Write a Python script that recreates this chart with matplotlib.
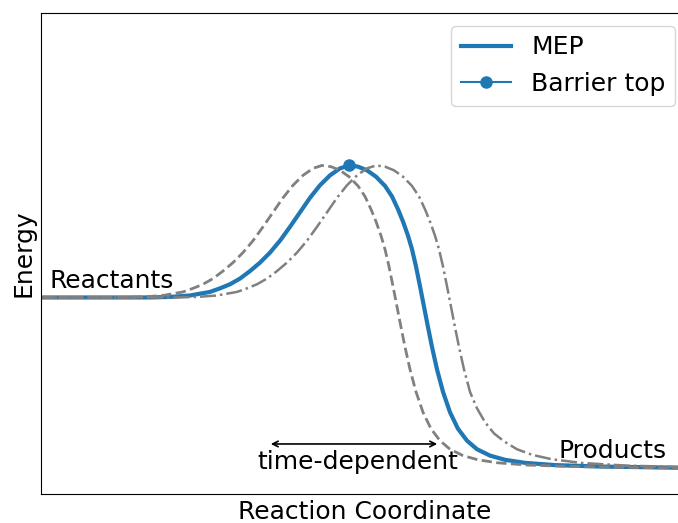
import matplotlib
matplotlib.use("Agg")
import matplotlib.pyplot as plt

# Minimum energy path: reaction coordinate (arbitrary steps) vs energy
mep_x = [0, 59, 109, 129, 149, 169, 179, 189, 199, 209, 219, 229, 239, 249,
         259, 269, 279, 289, 299, 308, 317, 326, 335, 344, 351, 357, 362, 367,
         371, 375, 379, 383, 387, 391, 396, 402, 409, 417, 426, 436, 449, 464,
         484, 514, 559, 647]
mep_e = [0.000, 0.000, 0.000, 0.004, 0.015, 0.042, 0.069, 0.100, 0.143,
         0.200, 0.264, 0.340, 0.430, 0.535, 0.645, 0.755, 0.850, 0.925,
         0.978, 1.000, 0.991, 0.963, 0.915, 0.845, 0.765, 0.668, 0.575,
         0.468, 0.365, 0.235, 0.085, -0.070, -0.225, -0.375, -0.545, -0.715,
         -0.870, -0.995, -1.085, -1.150, -1.198, -1.230, -1.253, -1.270,
         -1.281, -1.291]

# Path crossing the barrier earlier (dashed)
early_x = [-27, 32, 82, 102, 122, 142, 152, 162, 172, 182, 192, 202, 212,
           222, 232, 242, 252, 262, 272, 281, 290, 299, 308, 317, 324, 330,
           335, 340, 344, 348, 352, 356, 360, 364, 369, 375, 382, 390, 399,
           409, 422, 437, 457, 487, 532, 620, 647]
early_e = [0.000, 0.000, 0.000, 0.004, 0.015, 0.042, 0.069, 0.100, 0.143,
           0.200, 0.264, 0.340, 0.430, 0.535, 0.645, 0.755, 0.850, 0.925,
           0.978, 1.000, 0.991, 0.963, 0.915, 0.845, 0.765, 0.668, 0.575,
           0.468, 0.365, 0.235, 0.085, -0.070, -0.225, -0.375, -0.545, -0.715,
           -0.870, -0.995, -1.085, -1.150, -1.198, -1.230, -1.253, -1.270,
           -1.281, -1.291, -1.293]

# Path crossing the barrier later (dash-dot), with a slower decay
late_x = [0, 27, 86, 136, 156, 176, 196, 206, 216, 226, 236, 246, 256, 266,
          276, 286, 296, 306, 316, 326, 335, 344, 353, 362, 371, 378, 384,
          389, 394, 398, 402, 406, 410, 414, 418, 423, 429, 436, 444, 453,
          463, 476, 491, 511, 541, 586, 674]
late_e = [0.000, 0.000, 0.000, 0.000, 0.004, 0.015, 0.042, 0.069, 0.100,
          0.143, 0.200, 0.264, 0.340, 0.430, 0.535, 0.645, 0.755, 0.850,
          0.925, 0.978, 1.000, 0.991, 0.963, 0.915, 0.845, 0.765, 0.668,
          0.575, 0.468, 0.365, 0.235, 0.085, -0.070, -0.225, -0.375, -0.545,
          -0.715, -0.840, -0.945, -1.030, -1.090, -1.150, -1.192, -1.226,
          -1.254, -1.274, -1.291]

barrier_x = [308]
barrier_e = [1.000]

fig = plt.figure(figsize=(6.78, 5.23), dpi=100)
ax = fig.add_axes([41 / 678, 29 / 523, 647 / 678, 481 / 523])

ax.plot(mep_x, mep_e, color="#1f77b4", lw=3, label="MEP")
ax.plot(early_x, early_e, color="gray", lw=2, ls="--")
ax.plot(late_x, late_e, color="gray", lw=1.8, ls="-.")
ax.plot(barrier_x, barrier_e, "o-", color="#1f77b4", lw=1.5, ms=8,
        label="Barrier top")

ax.text(8, 0.072, "Reactants", fontsize=18, ha="left", va="baseline")
ax.text(626, -1.216, "Products", fontsize=18, ha="right", va="baseline")
ax.annotate("", xy=(227, -1.110), xytext=(399, -1.110),
            arrowprops=dict(arrowstyle="<->", color="black", lw=1.2))
ax.text(317, -1.299, "time-dependent", fontsize=18, ha="center",
        va="baseline")

ax.set_xlim(0, 647)
ax.set_ylim(-1.489, 2.155)
ax.set_xticks([])
ax.set_yticks([])
ax.set_xlabel("Reaction Coordinate", fontsize=18, labelpad=4)
ax.set_ylabel("Energy", fontsize=18, labelpad=4)
ax.legend(loc="upper right", fontsize=18)

fig.savefig("out.png", dpi=100)
